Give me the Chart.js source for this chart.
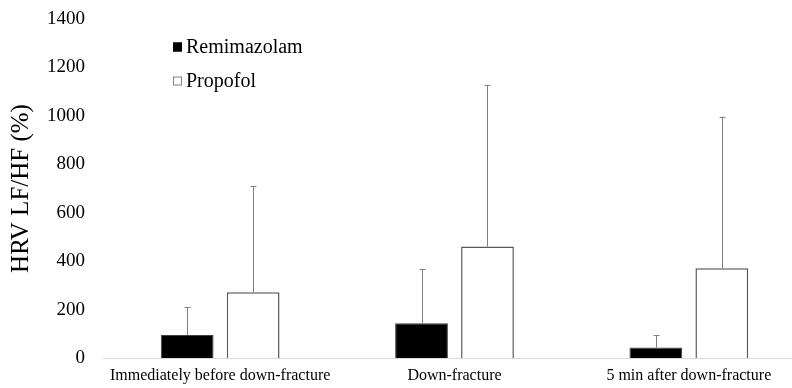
<!DOCTYPE html>
<html>
<head>
<meta charset="utf-8">
<script src="https://cdn.jsdelivr.net/npm/chart.js@4/dist/chart.umd.min.js"></script>
<style>
html,body{margin:0;padding:0;background:#fff;overflow:hidden;}
#wrap{position:relative;width:812px;height:388px;}
</style>
</head>
<body>
<div id="wrap"><canvas id="c"></canvas></div>
<script>
const categories = ['Immediately before down-fracture', 'Down-fracture', '5 min after down-fracture'];
const remimazolam = [95, 143, 43];
const remimazolamSD = [116, 223, 52];
const propofol = [272, 460, 371];
const propofolSD = [438, 668, 626];
const yTicks = [0, 200, 400, 600, 800, 1000, 1200, 1400];

const FONT = '"Liberation Serif", "Times New Roman", serif';

const errorBars = {
  id: 'errorBars',
  afterDatasetsDraw(chart) {
    const ctx = chart.ctx;
    const y = chart.scales.y;
    ctx.save();
    ctx.strokeStyle = '#7f7f7f';
    ctx.lineWidth = 1;
    chart.data.datasets.forEach((ds, di) => {
      const meta = chart.getDatasetMeta(di);
      meta.data.forEach((bar, i) => {
        const top = y.getPixelForValue(ds.data[i] + ds.sd[i]);
        const x = Math.round(bar.x) + 0.5;
        ctx.beginPath();
        ctx.moveTo(x, bar.y);
        ctx.lineTo(x, top);
        ctx.moveTo(x - 3, Math.round(top) + 0.5);
        ctx.lineTo(x + 3, Math.round(top) + 0.5);
        ctx.stroke();
      });
    });
    ctx.restore();
  }
};

const innerLegend = {
  id: 'innerLegend',
  afterDraw(chart) {
    const ctx = chart.ctx;
    ctx.save();
    ctx.font = Chart.helpers.toFont({ family: FONT, size: 20 }).string;
    ctx.textBaseline = 'middle';
    ctx.textAlign = 'left';
    const x0 = 173, ys = [47, 81];
    chart.data.datasets.forEach((ds, i) => {
      const cy = ys[i];
      ctx.fillStyle = ds.backgroundColor;
      ctx.fillRect(x0, cy - 4.5, 9, 9);
      ctx.strokeStyle = ds.backgroundColor === '#000000' ? '#000000' : '#7f7f7f';
      ctx.lineWidth = 1;
      ctx.strokeRect(x0 + 0.5, cy - 4, 8, 8);
      ctx.fillStyle = '#000';
      ctx.fillText(ds.label, x0 + 13, cy + 1);
    });
    ctx.restore();
  }
};

new Chart(document.getElementById('c'), {
  type: 'bar',
  data: {
    labels: categories,
    datasets: [
      { label: 'Remimazolam', data: remimazolam, sd: remimazolamSD,
        backgroundColor: '#000000', borderColor: '#404040', borderWidth: 1,
        categoryPercentage: 0.563, barPercentage: 0.8 },
      { label: 'Propofol', data: propofol, sd: propofolSD,
        backgroundColor: '#ffffff', borderColor: '#595959', borderWidth: 1.5,
        categoryPercentage: 0.563, barPercentage: 0.8 }
    ]
  },
  options: {
    responsive: true,
    maintainAspectRatio: false,
    animation: false,
    layout: { padding: { top: 19, right: 6, left: 4, bottom: 0 } },
    plugins: { legend: { display: false }, tooltip: { enabled: false } },
    scales: {
      x: {
        grid: { display: false, drawTicks: false },
        border: { display: true, color: '#d9d9d9', width: 1 },
        ticks: { color: '#000', font: { family: FONT, size: 16 }, padding: 8, maxRotation: 0, autoSkip: false },
        afterFit(s) { s.height = 30; }
      },
      y: {
        min: 0, max: 1400,
        afterBuildTicks(s) { s.ticks = yTicks.map(v => ({ value: v })); },
        grid: { display: false, drawTicks: false },
        border: { display: false },
        ticks: { color: '#000', font: { family: FONT, size: 19 }, padding: 18, callback: v => String(v) },
        title: { display: true, text: 'HRV LF/HF (%)', color: '#000', font: { family: FONT, size: 25 }, padding: { top: 2, bottom: 0 } },
        afterFit(s) { s.width = 99; s.paddingTop = 0; s.paddingBottom = 0; }
      }
    }
  },
  plugins: [errorBars, innerLegend]
});
</script>
</body>
</html>
